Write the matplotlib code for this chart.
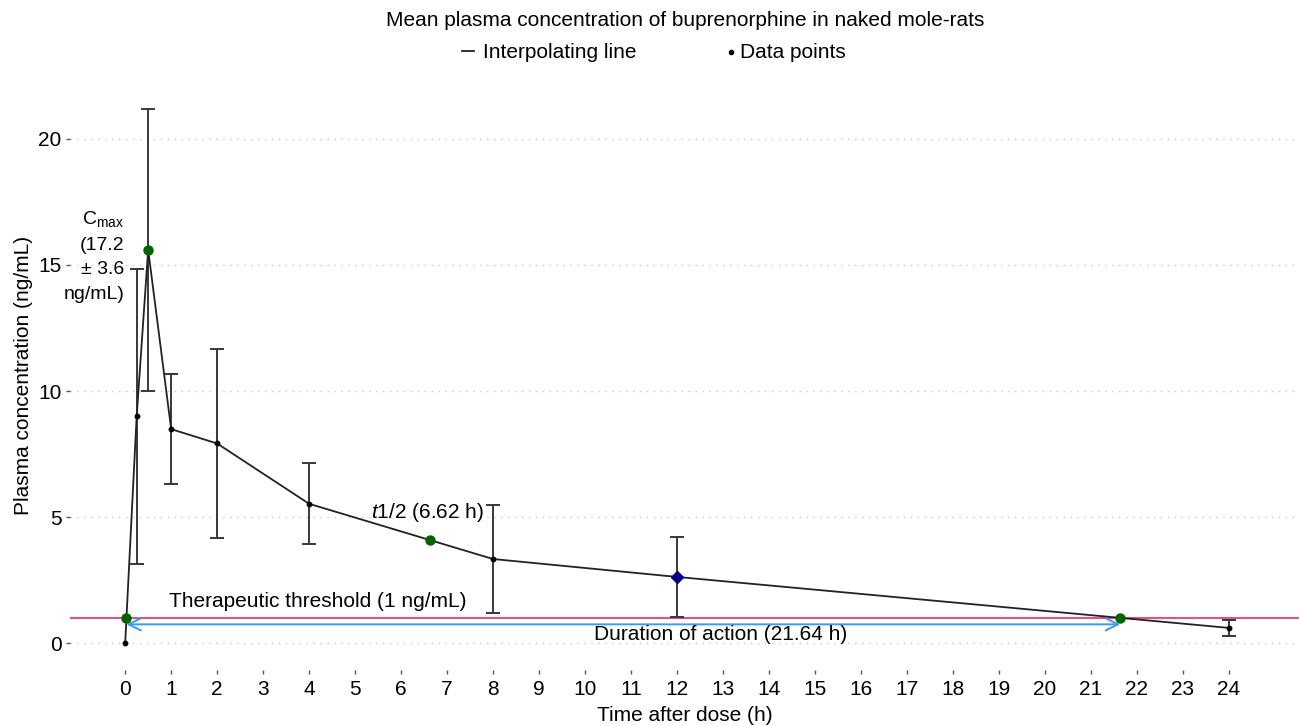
import matplotlib
matplotlib.use("Agg")
import matplotlib.pyplot as plt
from matplotlib.lines import Line2D

plt.rcParams['font.family'] = ['Liberation Sans', 'DejaVu Sans']
plt.rcParams['mathtext.fontset'] = 'custom'
plt.rcParams['mathtext.rm'] = 'Liberation Sans'
plt.rcParams['mathtext.it'] = 'Liberation Sans:italic'

# Data
times = [0, 0.25, 0.5, 1, 2, 4, 8, 12, 24]
means = [0, 9.0, 15.6, 8.49, 7.92, 5.53, 3.34, 2.63, 0.61]
sds = [0, 5.85, 5.6, 2.18, 3.75, 1.6, 2.15, 1.57, 0.31]
xticks = list(range(0, 25))
yticks = [0, 5, 10, 15, 20]
threshold = 1.0
onset_t = 0.028
thalf_t, thalf_c = 6.62, 4.10
end_t = 21.64
cmax_t, cmax_c = 0.5, 15.6
blue_t, blue_c = 12, 2.63

FS = 15

fig = plt.figure(figsize=(12.99, 7.26), dpi=100)
ax = fig.add_axes([70/1299, 1-670/726, 1229/1299, 590/726])
ax.set_xlim(-1.2, 25.53)
ax.set_ylim(-1.06, 22.33)

for s in ax.spines.values():
    s.set_visible(False)

ax.set_yticks(yticks)
ax.set_xticks(xticks)
ax.tick_params(axis='both', length=3, width=1, color='#555555', labelsize=FS, pad=3)
ax.tick_params(axis='x', pad=4)
for y in yticks:
    ax.axhline(y, color='#c8c8c8', lw=1.0, ls=(0, (1, 4)), zorder=0)

# threshold
ax.axhline(threshold, color='#E5508A', lw=1.5, zorder=1)

# error bars
ax.errorbar(times[1:], means[1:], yerr=sds[1:], fmt='none', ecolor='#383838',
            elinewidth=1.4, capsize=5, capthick=1.4, zorder=2)
# interpolating line
ax.plot(times, means, color='#222222', lw=1.3, zorder=3)
ax.plot(times, means, 'o', color='black', ms=3.2, zorder=4)

# duration arrow
ax.annotate('', xy=(onset_t, 0.75), xytext=(end_t, 0.75),
            arrowprops=dict(arrowstyle='<->', color='#3A9BF0', lw=1.4,
                            shrinkA=0, shrinkB=0, mutation_scale=22))

# special points
ax.plot([onset_t, cmax_t, thalf_t, end_t], [threshold, cmax_c, thalf_c, threshold],
        'o', color='#006400', ms=6.5, zorder=5)
ax.plot([blue_t], [blue_c], 'D', color='#00008B', ms=6, zorder=5)

# annotations
ax.text(-0.02, 15.35, 'C$_{\\mathrm{max}}$\n(17.2\n± 3.6\nng/mL)', ha='right', va='center',
        fontsize=14, linespacing=1.6)
ax.text(6.57, 5.2, '$\\it{t}$1/2 (6.62 h)', ha='center', va='center', fontsize=FS)
ax.text(0.96, 1.67, 'Therapeutic threshold (1 ng/mL)', ha='left', va='center', fontsize=FS)
ax.text(12.96, 0.36, 'Duration of action (21.64 h)', ha='center', va='center', fontsize=FS)

ax.set_xlabel('Time after dose (h)', fontsize=FS, labelpad=5)
ax.set_ylabel('Plasma concentration (ng/mL)', fontsize=FS, labelpad=4)

fig.text(685/1299, 1-20/726, 'Mean plasma concentration of buprenorphine in naked mole-rats',
         ha='center', va='center', fontsize=FS)
# legend (manual)
fig.add_artist(Line2D([462/1299, 474/1299], [1-51/726, 1-51/726], color='#222222', lw=1.3))
fig.text(483/1299, 1-52/726, 'Interpolating line', ha='left', va='center', fontsize=FS)
fig.add_artist(Line2D([731/1299], [1-52/726], color='black', marker='o', ms=3, ls='none'))
fig.text(740/1299, 1-52/726, 'Data points', ha='left', va='center', fontsize=FS)

fig.savefig('out.png', dpi=100)
